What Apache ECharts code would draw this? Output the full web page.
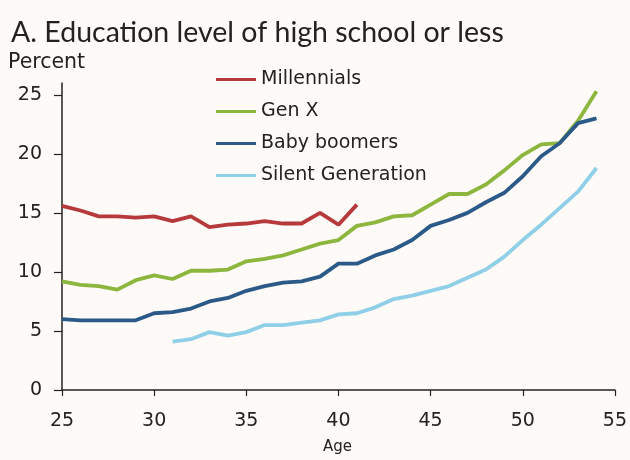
<!DOCTYPE html>
<html>
<head>
<meta charset="utf-8">
<script src="https://cdn.jsdelivr.net/npm/echarts@6/dist/echarts.min.js"></script>
<style>
html,body{margin:0;padding:0;background:#fdfaf7;}
#c{width:630px;height:460px;}
</style>
</head>
<body>
<div id="c"></div>
<script>
var titleText = 'A. Education level of high school or less';
var yAxisTitle = 'Percent';
var xAxisTitle = 'Age';
var seriesNames = ['Millennials', 'Gen X', 'Baby boomers', 'Silent Generation'];
var yTicks = [0, 5, 10, 15, 20, 25];

var millennialsStart = 25;
var millennials = [15.6,15.2,14.7,14.7,14.6,14.7,14.3,14.7,13.8,14.0,14.1,14.3,14.1,14.1,15.0,14.0,15.7];
var genXStart = 25;
var genX = [9.2,8.9,8.8,8.5,9.3,9.7,9.4,10.1,10.1,10.2,10.9,11.1,11.4,11.9,12.4,12.7,13.9,14.2,14.7,14.8,15.7,16.6,16.6,17.4,18.6,19.9,20.8,20.9,22.8,25.3];
var boomersStart = 25;
var boomers = [6.0,5.9,5.9,5.9,5.9,6.5,6.6,6.9,7.5,7.8,8.4,8.8,9.1,9.2,9.6,10.7,10.7,11.4,11.9,12.7,13.9,14.4,15.0,15.9,16.7,18.1,19.8,20.9,22.6,23.0];
var silentStart = 31;
var silent = [4.1,4.3,4.9,4.6,4.9,5.5,5.5,5.7,5.9,6.4,6.5,7.0,7.7,8.0,8.4,8.8,9.5,10.2,11.3,12.7,14.0,15.4,16.8,18.8];

var colors = ['#b63a3c', '#8cb63e', '#2b5a88', '#8fcfe7'];

function pairs(start, vals) {
  return vals.map(function (v, i) { return [start + i, v]; });
}
var allData = [pairs(millennialsStart, millennials), pairs(genXStart, genX), pairs(boomersStart, boomers), pairs(silentStart, silent)];

var titleFont = 'Lato';
var font = 'DejaVu Sans';
var chart = echarts.init(document.getElementById('c'), null, {renderer: 'canvas'});
chart.setOption({
  backgroundColor: '#fdfaf7',
  animation: false,
  textStyle: {fontFamily: font, color: '#222'},
  title: {
    text: titleText, left: 6, top: 13,
    textStyle: {fontFamily: titleFont, fontSize: 28.5, fontWeight: 'normal', color: '#222'}
  },
  graphic: [
    {type: 'text', left: 8, top: 52, style: {text: yAxisTitle, font: '20.5px "DejaVu Sans"', fill: '#222'}},
    {type: 'text', left: 323, top: 440, style: {text: xAxisTitle, font: '15px "DejaVu Sans"', fill: '#222'}}
  ],
  legend: {
    orient: 'vertical', left: 211, top: 65,
    icon: 'rect', itemWidth: 40, itemHeight: 3, itemGap: 13,
    textStyle: {fontFamily: font, fontSize: 19, color: '#222', lineHeight: 19},
    data: seriesNames
  },
  grid: {left: 62, right: 15, top: 83, bottom: 70, containLabel: false},
  xAxis: {
    type: 'value', min: 25, max: 55, interval: 5,
    axisLine: {lineStyle: {color: '#222', width: 1.5}},
    axisTick: {show: true, length: 6, lineStyle: {color: '#222', width: 1.2}},
    axisLabel: {fontFamily: font, fontSize: 19, color: '#222', margin: 22},
    splitLine: {show: false}
  },
  yAxis: {
    type: 'value', min: 0, max: 26, interval: 5,
    axisLine: {show: true, lineStyle: {color: '#222', width: 1.5}},
    axisTick: {show: true, length: 8, customValues: yTicks, lineStyle: {color: '#222', width: 1.2}},
    axisLabel: {fontFamily: font, fontSize: 19, color: '#222', margin: 20, customValues: yTicks},
    splitLine: {show: false}
  },
  series: seriesNames.map(function (n, i) {
    return {
      name: n, type: 'line', data: allData[i], showSymbol: false, symbol: 'none',
      lineStyle: {color: colors[i], width: 3.8}, itemStyle: {color: colors[i]}
    };
  })
});
</script>
</body>
</html>
